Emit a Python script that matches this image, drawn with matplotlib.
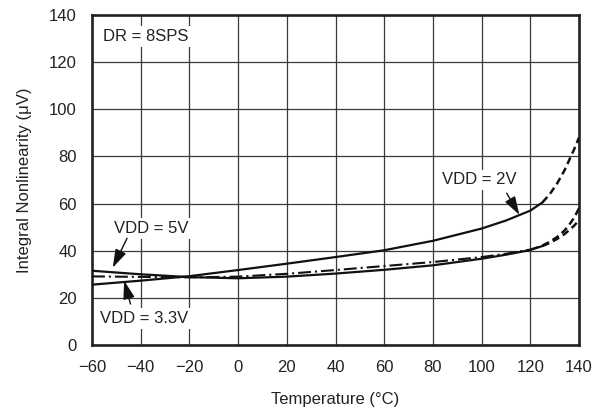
import matplotlib
matplotlib.use("Agg")
import matplotlib.pyplot as plt

plt.rcParams['font.family'] = ['Liberation Sans', 'DejaVu Sans']

# ---- data ----
temp_solid = [-60, -40, -20, 0, 20, 40, 60, 80, 100, 110, 120, 125]
vdd2_solid = [25.6, 27.3, 29.2, 31.8, 34.5, 37.3, 40.2, 44.2, 49.4, 52.8, 57.0, 60.5]
vdd5_solid = [31.5, 30.0, 28.8, 28.3, 29.0, 30.3, 31.9, 33.8, 36.6, 38.3, 40.3, 42.0]
vdd33_solid = [29.1, 28.9, 28.7, 29.0, 30.2, 31.8, 33.5, 35.2, 37.3, 38.7, 40.5, 42.2]

temp_dash = [125, 128, 131, 134, 136, 138, 140]
vdd2_dash = [60.5, 64.0, 68.5, 74.0, 78.5, 83.0, 88.0]
vdd5_dash = [42.0, 43.3, 45.0, 47.0, 48.8, 50.6, 53.0]
vdd33_dash = [42.2, 43.8, 45.8, 48.5, 51.0, 54.0, 58.0]

xticks = [-60, -40, -20, 0, 20, 40, 60, 80, 100, 120, 140]
yticks = [0, 20, 40, 60, 80, 100, 120, 140]
xtick_labels = ['\u221260', '\u221240', '\u221220', '0', '20', '40', '60', '80', '100', '120', '140']

FS = 12
TC = '#222222'

fig = plt.figure(figsize=(6.05, 4.09), dpi=100)
ax = fig.add_axes([92/605, 64/409, 487/605, 330/409])

ax.set_xlim(-60, 140)
ax.set_ylim(0, 140)
ax.set_xticks(xticks)
ax.set_xticklabels(xtick_labels)
ax.set_yticks(yticks)
ax.tick_params(axis='x', length=0, pad=11, labelsize=FS, colors=TC)
ax.tick_params(axis='y', length=0, pad=11, labelsize=FS, colors=TC)
ax.grid(True, color='#3a3a3a', lw=0.9, zorder=0)
ax.set_axisbelow(True)
for s in ax.spines.values():
    s.set_linewidth(1.9)
    s.set_color('#222222')

lc = '#111111'
ax.plot(temp_solid, vdd2_solid, color=lc, lw=1.6, zorder=3)
ax.plot(temp_solid, vdd5_solid, color=lc, lw=1.6, zorder=3)
l33, = ax.plot(temp_solid, vdd33_solid, color=lc, lw=1.5, zorder=3)
l33.set_dashes((6.2, 1.9, 1.0, 1.9))
for yd in (vdd2_dash, vdd5_dash, vdd33_dash):
    l, = ax.plot(temp_dash, yd, color=lc, lw=1.8, zorder=3)
    l.set_dashes((2.9, 1.7))

ax.set_xlabel('Temperature (\u00b0C)', fontsize=FS, color=TC, labelpad=12)
ax.set_ylabel('Integral Nonlinearity (\u03bcV)', fontsize=FS, color=TC, labelpad=12)

box = dict(facecolor='white', edgecolor='none', pad=2)
ax.text(-55.5, 130.8, 'DR = 8SPS', fontsize=FS, va='center', ha='left', bbox=box, zorder=4, color=TC)

arrow = dict(arrowstyle='-|>,head_length=0.7,head_width=0.22', color=lc, lw=1.0,
             shrinkA=0, shrinkB=0, mutation_scale=16)
ax.annotate('', xy=(-51.5, 32.8), xytext=(-45.6, 45.3), arrowprops=arrow, zorder=5)
ax.text(-51.1, 49.5, 'VDD = 5V', fontsize=FS, va='center', ha='left', bbox=box, zorder=4, color=TC)

ax.annotate('', xy=(-46.8, 27.3), xytext=(-44.2, 17.4), arrowprops=arrow, zorder=5)
ax.text(-56.7, 11.3, 'VDD = 3.3V', fontsize=FS, va='center', ha='left', bbox=box, zorder=4, color=TC)

ax.annotate('', xy=(115.5, 55.2), xytext=(110.3, 64.4), arrowprops=arrow, zorder=5)
ax.text(83.6, 70.0, 'VDD = 2V', fontsize=FS, va='center', ha='left', bbox=box, zorder=4, color=TC)

fig.savefig('out.png', dpi=100)
